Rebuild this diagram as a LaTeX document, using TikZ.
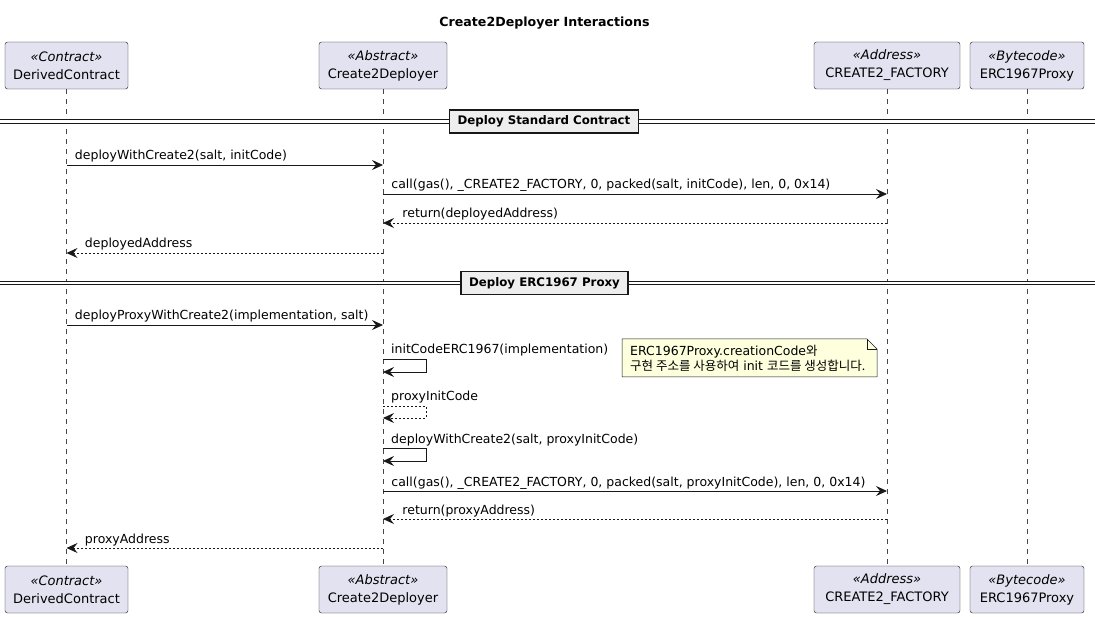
\documentclass[tikz,border=0pt]{standalone}
\usepackage{fontspec}
\setmainfont{DejaVu Sans}
\newfontfamily\krfont{Noto Sans CJK KR}
\usetikzlibrary{arrows.meta,positioning}

\definecolor{partfill}{HTML}{E2E2F0}
\definecolor{linecol}{HTML}{181818}
\definecolor{notefill}{HTML}{FEFFDD}
\definecolor{divfill}{HTML}{EEEEEE}

\newcommand{\stereo}[1]{\textit{«#1»}}
\newcommand{\kr}[1]{{\krfont #1}}

\tikzset{
  part/.style={draw=linecol, fill=partfill, rounded corners=2.5pt, align=center,
    minimum height=47pt, inner xsep=6pt, font=\fontsize{13}{18}\selectfont},
  lifeline/.style={draw=linecol!80, dash pattern=on 5pt off 5pt, line width=0.5pt},
  msg/.style={draw=linecol, line width=0.9pt, -{Stealth[length=11pt,width=10pt,inset=4pt]}},
  ret/.style={msg, dash pattern=on 2pt off 2pt},
  lbl/.style={inner sep=0pt, anchor=base west, font=\fontsize{12.5}{14}\selectfont},
  divbox/.style={draw=linecol, fill=divfill, line width=1.5pt, inner xsep=8pt,
    minimum height=23pt, font=\bfseries\fontsize{11.8}{14}\selectfont},
  divline/.style={draw=linecol, line width=1pt, double=white, double distance=2.6pt}
}

\begin{document}
\begin{tikzpicture}[x=1pt,y=-1pt]
  \useasboundingbox (0,0) rectangle (1095,617);

  \node[font=\bfseries\fontsize{12.6}{15}\selectfont] (title) at (544.5,23) {Create2Deployer Interactions};

  % participants, top and bottom
  \node[part, minimum width=123pt] (dc) at (66.5,65.5) {\stereo{Contract}\\DerivedContract};
  \node[part, minimum width=128pt] (cd) at (383,65.5) {\stereo{Abstract}\\Create2Deployer};
  \node[part, minimum width=146pt] (cf) at (887,65.5) {\stereo{Address}\\CREATE2\_FACTORY};
  \node[part, minimum width=114pt] (ep) at (1027,65.5) {\stereo{Bytecode}\\ERC1967Proxy};
  \node[part, minimum width=123pt] (dcb) at (66.5,589.5) {\stereo{Contract}\\DerivedContract};
  \node[part, minimum width=128pt] (cdb) at (383,589.5) {\stereo{Abstract}\\Create2Deployer};
  \node[part, minimum width=146pt] (cfb) at (887,589.5) {\stereo{Address}\\CREATE2\_FACTORY};
  \node[part, minimum width=114pt] (epb) at (1027,589.5) {\stereo{Bytecode}\\ERC1967Proxy};

  \draw[lifeline] (dc) -- (dcb);
  \draw[lifeline] (cd) -- (cdb);
  \draw[lifeline] (cf) -- (cfb);
  \draw[lifeline] (ep) -- (epb);

  % dividers
  \node[divbox] (div1) at (544,121.5) {Deploy Standard Contract};
  \draw[divline] (0,121.5) -- (div1.west);
  \draw[divline] (div1.east) -- (1095,121.5);
  \node[divbox] (div2) at (544.5,283) {Deploy ERC1967 Proxy};
  \draw[divline] (0,283) -- (div2.west);
  \draw[divline] (div2.east) -- (1095,283);

  % standard contract
  \draw[msg] (dc |- 0,165) -- (cd |- 0,165)
    node[lbl, pos=0, xshift=8pt, yshift=5pt] {deployWithCreate2(salt, initCode)};
  \draw[msg] (cd |- 0,194) -- (cf |- 0,194)
    node[lbl, pos=0, xshift=8pt, yshift=5pt] {call(gas(), \_CREATE2\_FACTORY, 0, packed(salt, initCode), len, 0, 0x14)};
  \draw[ret] (cf |- 0,223) -- (cd |- 0,223)
    node[lbl, pos=1, xshift=19pt, yshift=5pt] {return(deployedAddress)};
  \draw[ret] (cd |- 0,253) -- (dc |- 0,253)
    node[lbl, pos=1, xshift=18pt, yshift=5pt] {deployedAddress};

  % proxy
  \draw[msg] (dc |- 0,325) -- (cd |- 0,325)
    node[lbl, pos=0, xshift=8pt, yshift=5pt] {deployProxyWithCreate2(implementation, salt)};
  \draw[msg] (cd |- 0,359) -- ++(43,0) -- ++(0,13) -- (cd |- 0,372);
  \node[lbl, xshift=8pt, yshift=5pt] at (cd |- 0,359) {initCodeERC1967(implementation)};
  \draw[ret] (cd |- 0,406) -- ++(43,0) -- ++(0,12) -- (cd |- 0,418);
  \node[lbl, xshift=8pt, yshift=5pt] at (cd |- 0,406) {proxyInitCode};
  \draw[msg] (cd |- 0,448) -- ++(43,0) -- ++(0,13) -- (cd |- 0,461);
  \node[lbl, xshift=8pt, yshift=5pt] at (cd |- 0,448) {deployWithCreate2(salt, proxyInitCode)};
  \draw[msg] (cd |- 0,491) -- (cf |- 0,491)
    node[lbl, pos=0, xshift=8pt, yshift=5pt] {call(gas(), \_CREATE2\_FACTORY, 0, packed(salt, proxyInitCode), len, 0, 0x14)};
  \draw[ret] (cf |- 0,519) -- (cd |- 0,519)
    node[lbl, pos=1, xshift=19pt, yshift=5pt] {return(proxyAddress)};
  \draw[ret] (cd |- 0,548) -- (dc |- 0,548)
    node[lbl, pos=1, xshift=18pt, yshift=5pt] {proxyAddress};

  % note
  \draw[linecol, fill=notefill, line width=0.5pt]
    (622,339) -- (867,339) -- (877,349) -- (877,377) -- (622,377) -- cycle;
  \draw[linecol, line width=0.5pt] (867,339) -- (867,349) -- (877,349);
  \node[lbl, align=left, font=\fontsize{12.5}{15.5}\selectfont] (note) at (630,371)
    {ERC1967Proxy.creationCode\kr{와}\\\kr{구현 주소를 사용하여} init \kr{코드를 생성합니다.}};
\end{tikzpicture}
\end{document}
